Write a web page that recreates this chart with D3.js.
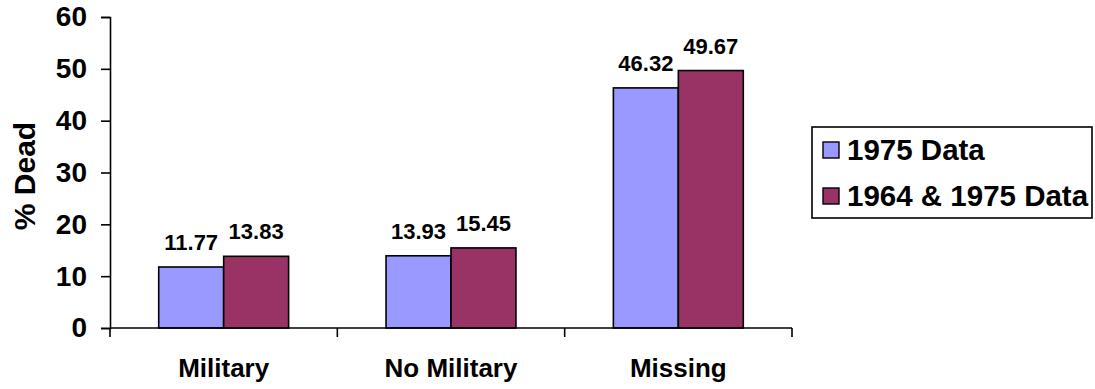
<!DOCTYPE html>
<html>
<head>
<meta charset="utf-8">
<script src="https://cdn.jsdelivr.net/npm/d3@7"></script>
<style>
  html, body { margin: 0; padding: 0; background: #fff; }
  svg { display: block; }
  text { font-family: "Liberation Sans", Arial, sans-serif; font-weight: bold; fill: #000; }
</style>
</head>
<body>
<svg id="chart" width="1095" height="389"></svg>
<script>
const categories = ["Military", "No Military", "Missing"];
const seriesNames = ["1975 Data", "1964 & 1975 Data"];
const series1975 = [11.77, 13.93, 46.32];
const series1964and1975 = [13.83, 15.45, 49.67];
const yTicks = [0, 10, 20, 30, 40, 50, 60];
const colors = ["#9999FF", "#993366"];

const seriesValues = [series1975, series1964and1975];
const rows = categories.map((c, i) => ({
  category: c,
  values: seriesNames.map((s, j) => ({ series: s, value: seriesValues[j][i], idx: j }))
}));

const svg = d3.select("#chart");
const plot = { left: 110, right: 792, top: 17, bottom: 328 };

const x0 = d3.scaleBand().domain(categories).range([plot.left, plot.right]).paddingInner(0).paddingOuter(0);
const x1 = d3.scaleBand().domain(seriesNames).range([0, x0.bandwidth()]).paddingInner(0).paddingOuter(0.75);
const y = d3.scaleLinear().domain([0, 60]).range([plot.bottom, plot.top]);

// Bars
const groups = svg.append("g").selectAll("g").data(rows).join("g")
  .attr("transform", d => `translate(${x0(d.category)},0)`);

groups.selectAll("rect").data(d => d.values).join("rect")
  .attr("x", d => x1(d.series))
  .attr("y", d => y(d.value))
  .attr("width", x1.bandwidth())
  .attr("height", d => y(0) - y(d.value))
  .attr("fill", d => colors[d.idx])
  .attr("stroke", "#000")
  .attr("stroke-width", 1.6);

groups.selectAll("text.val").data(d => d.values).join("text")
  .attr("class", "val")
  .attr("x", d => x1(d.series) + x1.bandwidth() / 2)
  .attr("y", d => y(d.value) - 17)
  .attr("text-anchor", "middle")
  .style("font-size", "22px")
  .text(d => d.value.toFixed(2));

// Y axis
const yAxis = d3.axisLeft(y).tickValues(yTicks).tickSize(9).tickPadding(14).tickFormat(d3.format("d"));
const yg = svg.append("g").attr("transform", `translate(${plot.left},0)`).call(yAxis);
yg.select(".domain").attr("stroke", "#000").attr("stroke-width", 1.6);
yg.selectAll(".tick line").attr("stroke", "#000").attr("stroke-width", 1.6);
yg.selectAll(".tick text").style("font-size", "28px").attr("font-family", null).attr("fill", "#000");

// X axis
const xAxis = d3.axisBottom(x0).tickSize(0).tickFormat("");
const xg = svg.append("g").attr("transform", `translate(0,${plot.bottom})`).call(xAxis);
xg.select(".domain").remove();
xg.append("line").attr("x1", plot.left).attr("x2", plot.right).attr("y1", 0).attr("y2", 0)
  .attr("stroke", "#000").attr("stroke-width", 1.6);
const boundaries = categories.map(c => x0(c)).concat([x0(categories[categories.length - 1]) + x0.bandwidth()]);
xg.selectAll("line.bound").data(boundaries).join("line")
  .attr("class", "bound")
  .attr("x1", d => d).attr("x2", d => d).attr("y1", 0).attr("y2", 9)
  .attr("stroke", "#000").attr("stroke-width", 1.6);
svg.append("g").selectAll("text").data(categories).join("text")
  .attr("x", d => x0(d) + x0.bandwidth() / 2)
  .attr("y", 377)
  .attr("text-anchor", "middle")
  .style("font-size", "26px")
  .text(d => d);

// Y title
svg.append("text")
  .attr("transform", `translate(35,176) rotate(-90)`)
  .attr("text-anchor", "middle")
  .style("font-size", "30px")
  .text("% Dead");

// Legend
const lg = svg.append("g");
lg.append("rect").attr("x", 812).attr("y", 127).attr("width", 280).attr("height", 91)
  .attr("fill", "#fff").attr("stroke", "#000").attr("stroke-width", 1.6);
const items = lg.selectAll("g").data(seriesNames).join("g")
  .attr("transform", (d, i) => `translate(823,${142 + i * 46})`);
items.append("rect").attr("width", 16).attr("height", 16)
  .attr("fill", (d, i) => colors[i]).attr("stroke", "#000").attr("stroke-width", 1.4);
items.append("text").attr("x", 24).attr("y", 8).attr("dy", "0.35em")
  .style("font-size", "29.5px").text(d => d);
</script>
</body>
</html>
